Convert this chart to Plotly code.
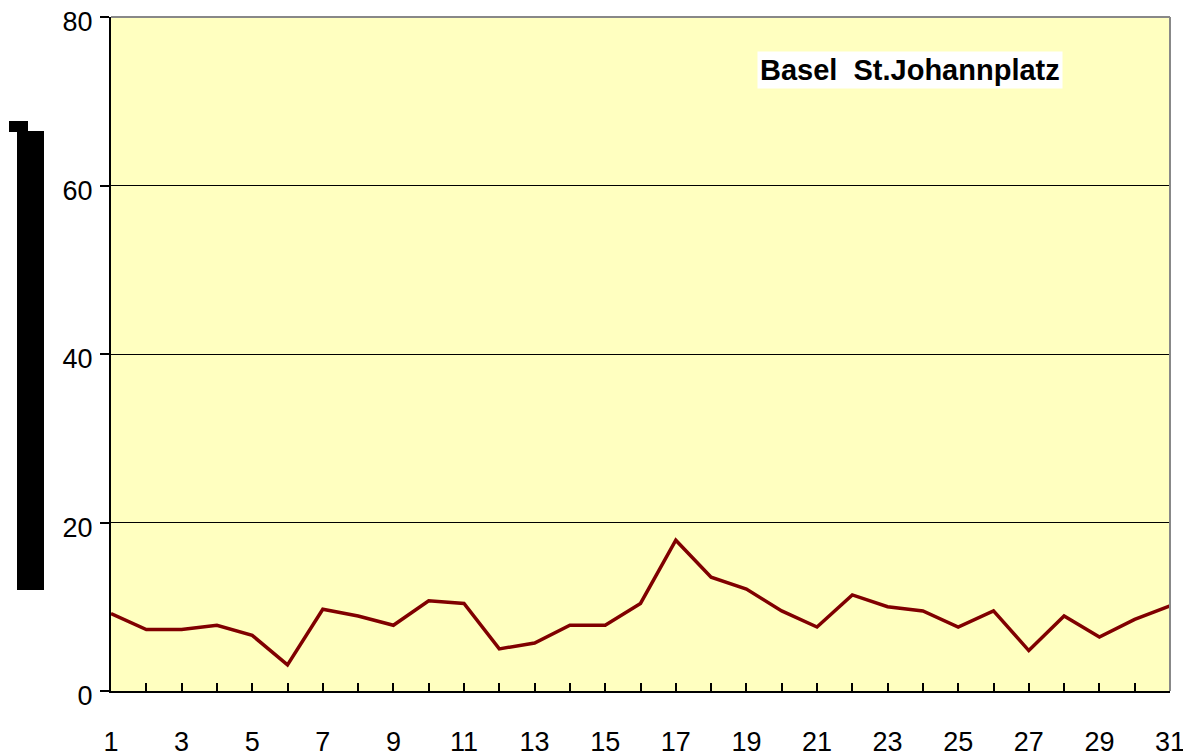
import plotly.graph_objects as go

days = list(range(1, 32))
values = [9.2, 7.3, 7.3, 7.8, 6.6, 3.1, 9.7, 8.9, 7.8, 10.7, 10.4,
          5.0, 5.7, 7.8, 7.8, 10.4, 17.9, 13.5, 12.1, 9.5, 7.6, 11.4,
          10.0, 9.5, 7.6, 9.5, 4.8, 8.9, 6.4, 8.5, 10.1]
y_ticks = [0, 20, 40, 60, 80]
x_tick_text = [str(d) if d % 2 == 1 else "" for d in days]
station = "Basel  St.Johannplatz"

# page has an 8px body margin, so figure is offset by (8, 8)
OFF = 8
W, H = 1191 - OFF, 756 - OFF
L, R, T, B = 111 - OFF, 21, 17 - OFF, 65
pw, ph = W - L - R, H - T - B

def px(sx):
    return (sx - OFF - L) / pw

def py(sy):
    return (H - B - (sy - OFF)) / ph

fig = go.Figure()
fig.add_trace(go.Scatter(x=days, y=values, mode="lines",
                         line=dict(color="#800000", width=3.5),
                         showlegend=False, hoverinfo="skip", cliponaxis=False))

fig.update_layout(
    width=W, height=H,
    margin=dict(l=L, r=R, t=T, b=B, pad=0, autoexpand=False),
    paper_bgcolor="white",
    plot_bgcolor="#FFFFC0",
    font=dict(family="Liberation Sans, Arial, sans-serif", size=27, color="black"),
    xaxis=dict(range=[1, 31], tickvals=days, ticktext=x_tick_text,
               ticks="inside", ticklen=8, tickwidth=2, tickcolor="black",
               showline=True, linecolor="black", linewidth=2,
               showgrid=False, zeroline=False, ticklabelstandoff=26,
               ticklabeloverflow="allow",
               automargin=False, tickfont=dict(size=27)),
    yaxis=dict(range=[0, 80], tickvals=y_ticks,
               ticks="outside", ticklen=9, tickwidth=2, tickcolor="black",
               showline=True, linecolor="black", linewidth=2,
               showgrid=True, gridcolor="black", gridwidth=1,
               zeroline=False, ticklabelstandoff=2, ticklabelshift=5,
               ticklabeloverflow="allow",
               automargin=False, tickfont=dict(size=27)),
    shapes=[
        dict(type="line", xref="paper", yref="paper", x0=0, x1=1, y0=1, y1=1,
             line=dict(color="#888888", width=2)),
        dict(type="line", xref="paper", yref="paper", x0=1, x1=1, y0=0, y1=1,
             line=dict(color="#888888", width=2)),
        dict(type="rect", xref="paper", yref="paper",
             x0=px(17), x1=px(44), y0=py(590), y1=py(131),
             fillcolor="black", line=dict(width=0)),
        dict(type="rect", xref="paper", yref="paper",
             x0=px(9), x1=px(28), y0=py(132), y1=py(121),
             fillcolor="black", line=dict(width=0)),
    ],
    annotations=[
        dict(text="<b>" + station + "</b>", xref="paper", yref="paper",
             x=px(910), y=py(70), xanchor="center", yanchor="middle",
             showarrow=False, bgcolor="white", borderpad=2,
             font=dict(size=29, color="black")),
    ],
)

fig.write_html("out.html")
